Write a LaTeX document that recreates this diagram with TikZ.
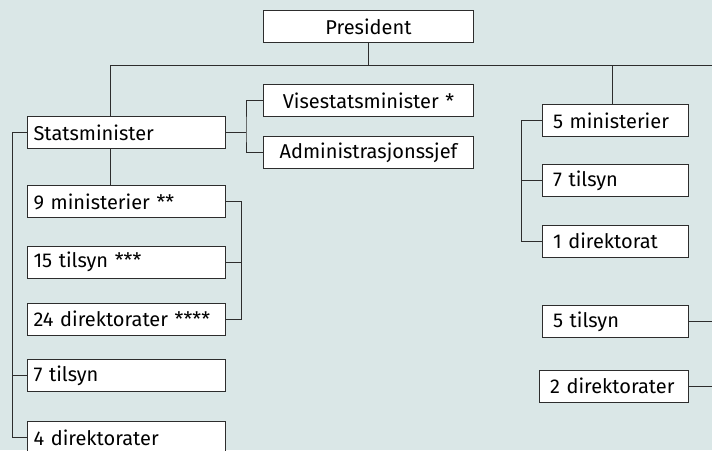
\documentclass[tikz,border=0pt]{standalone}
\usepackage{fontspec}
\setmainfont{Fira Sans}
\usetikzlibrary{calc}

\definecolor{bgblue}{RGB}{218,231,231}
\definecolor{linegrey}{RGB}{45,45,45}
\newcommand{\orgfont}{\fontsize{15}{18}\selectfont}

\tikzset{every picture/.style={line width=0.75pt}}
\tikzset{
  orgbox/.style={draw=linegrey, fill=white, rectangle, anchor=north west,
    minimum height=24pt, inner ysep=0pt, font=\orgfont},
  leftbox/.style={orgbox, inner xsep=4.5pt, text width=139.5pt, align=left},
  midbox/.style={orgbox, inner xsep=0pt, text width=157.5pt, align=center},
  rightbox/.style={orgbox, inner xsep=8.25pt, text width=93.5pt, align=left},
  link/.style={draw=linegrey},
}

\begin{document}
\begin{tikzpicture}[x=0.75pt,y=0.75pt,yscale=-1,xscale=1]
\useasboundingbox (0,0) rectangle (712,450);
\fill[bgblue] (0,0) rectangle (712,450);

% Top
\node[midbox] (pres) at (263,10) {President};
\coordinate (edgeR) at (712,65);

% Left column
\node[leftbox] (sm) at (27,116) {Statsminister};
\node[midbox] (vise) at (263,84) {Visestatsminister *};
\node[midbox] (adm) at (263,136) {Administrasjonssjef};
\node[leftbox] (min9) at (27,185) {9 ministerier **};
\node[leftbox] (tils15) at (27,245.5) {15 tilsyn ***};
\node[leftbox] (dir24) at (27,302.5) {24 direktorater ****};
\node[leftbox] (tils7) at (27,359) {7 tilsyn};
\node[leftbox] (dir4) at (27,421) {4 direktorater};

% Right column
\node[rightbox] (min5) at (541.5,104) {5 ministerier};
\node[rightbox] (tils7r) at (541.5,164) {7 tilsyn};
\node[rightbox] (dir1) at (541.5,224.5) {1 direktorat};
\node[rightbox] (tils5) at (541.5,305) {5 tilsyn};
\node[rightbox, text width=95.75pt] (dir2) at (538.5,369.5) {2 direktorater};

% Connectors
\draw[link] (pres.south) -- (pres.south |- edgeR);
\draw[link] ([xshift=-12pt]sm.north) |- (edgeR);
\draw[link] ([xshift=-2.5pt]min5.north) -- ([xshift=-2.5pt]min5.north |- edgeR);
\draw[link] ([xshift=-12pt]sm.south) -- ([xshift=-12pt]min9.north);

\draw[link] (sm.east) -- ++(20,0) coordinate (smj);
\draw[link] (vise.west) -| (smj) |- (adm.west);

\draw[link] (min9.east) -- ++(15,0) |- (dir24.east);
\draw[link] (tils15.east) -- ++(15,0);

\draw[link] (sm.west) -- ++(-15,0) |- (dir4.west);
\draw[link] (tils7.west) -- ++(-15,0);

\draw[link] (min5.west) -- ++(-20,0) |- (dir1.west);
\draw[link] (tils7r.west) -- ++(-20,0);

\draw[link] (tils5.east) -- (tils5.east -| edgeR);
\draw[link] (dir2.east) -- (dir2.east -| edgeR);

\end{tikzpicture}
\end{document}
